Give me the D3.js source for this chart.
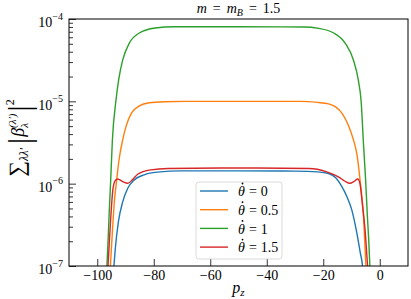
<!DOCTYPE html>
<html>
<head>
<meta charset="utf-8">
<script src="https://cdn.jsdelivr.net/npm/d3@7"></script>
<style>
  body { margin: 0; background: #fff; }
  svg { display: block; }
  .axis text { font-family: "Liberation Serif", "Times New Roman", "DejaVu Serif", serif; font-size: 14px; fill: #000; }
  .axis line { stroke: #000; stroke-width: 0.8px; }
</style>
</head>
<body>
<div class="chart"></div>
<script>
// values
const thetaDots = ["0", "0.5", "1", "1.5"]
const colors = ["#1f77b4", "#ff7f0e", "#2ca02c", "#d62728"]

const pz0 = [-94.7, -94.1, -93.6, -92.5, -91.0, -89.2, -86.9, -83.4, -78.8, -70, -50, -30, -22, -18.1, -15.5, -13.4, -11.5, -9.9, -8.1, -6.9, -6.1, -5.5]
const b0 = [5e-8, 1e-7, 1.64e-7, 3.47e-7, 6.0e-7, 8.8e-7, 1.11e-6, 1.28e-6, 1.38e-6, 1.43e-6, 1.43e-6, 1.42e-6, 1.39e-6, 1.33e-6, 1.17e-6, 9.2e-7, 6.8e-7, 4.8e-7, 2.5e-7, 1.45e-7, 1e-7, 5e-8]

const pz05 = [-95.9, -95.35, -94.6, -93.9, -93.2, -92.3, -91.0, -89.7, -87.9, -85.1, -81.6, -76.3, -69, -50, -28, -22, -18.1, -15.5, -13.4, -11.2, -9.3, -8.1, -6.9, -5.75, -4.9, -4.3]
const b05 = [4e-8, 1e-7, 2.74e-7, 6.3e-7, 1.05e-6, 1.94e-6, 3.4e-6, 5.1e-6, 7.2e-6, 8.8e-6, 9.6e-6, 9.9e-6, 1.0e-5, 1.0e-5, 1.0e-5, 9.7e-6, 9.3e-6, 8.5e-6, 7.2e-6, 5.2e-6, 3.4e-6, 2.3e-6, 1.05e-6, 4.0e-7, 1e-7, 4e-8]

const pz1 = [-97.2, -96.58, -96.16, -95.8, -95.24, -94.64, -93.4, -92.42, -91.01, -88.64, -85.12, -79.47, -72.8, -50, -27, -21.6, -16.3, -12.2, -9.3, -7.6, -6.6, -5.75, -5.0, -4.4, -3.9, -3.5, -3.0]
const b1 = [5e-8, 1e-7, 2.07e-7, 4.17e-7, 1.11e-6, 3.4e-6, 1.01e-5, 1.82e-5, 3.16e-5, 5.1e-5, 6.76e-5, 7.76e-5, 8.05e-5, 8.05e-5, 8.0e-5, 7.7e-5, 6.76e-5, 5.07e-5, 3.16e-5, 1.82e-5, 1.01e-5, 3.0e-6, 1.11e-6, 4.17e-7, 2.07e-7, 1e-7, 5e-8]

const pz15 = [-96.8, -96.2, -95.3, -94.5, -93.7, -92.8, -91.0, -89.2, -87.5, -85.7, -81.0, -75, -50, -25, -19, -14.5, -12.3, -10.6, -9.0, -7.8, -7.0, -6.3, -5.1, -4.3, -3.8]
const b15 = [5e-8, 1e-7, 3.5e-7, 8.3e-7, 1.08e-6, 1.14e-6, 1.06e-6, 1.01e-6, 1.12e-6, 1.30e-6, 1.47e-6, 1.53e-6, 1.55e-6, 1.53e-6, 1.40e-6, 1.2e-6, 1.07e-6, 1.01e-6, 1.07e-6, 1.14e-6, 1.0e-6, 6.3e-7, 2.5e-7, 1e-7, 5e-8]

const xTicks = [-100, -80, -60, -40, -20, 0]
const yTicks = [1e-7, 1e-6, 1e-5, 1e-4]

const pzs = [pz0, pz05, pz1, pz15]
const vals = [b0, b05, b1, b15]

const margin = {top: 19, right: 3, bottom: 33, left: 69}
const width = 411 - margin.left - margin.right
const height = 299 - margin.top - margin.bottom
const serif = '"Liberation Serif", "Times New Roman", "DejaVu Serif", serif'

const svg = d3.select(".chart").append("svg")
    .attr("width", 411)
    .attr("height", 299)

const g = svg.append("g")
    .attr("transform", "translate(" + margin.left + "," + margin.top + ")")

const x = d3.scaleLinear().domain([-110, 10]).range([0, width])
const y = d3.scaleLog().domain([1e-7, 1e-4]).range([height, 0])

g.append("clipPath").attr("id", "clip")
  .append("rect").attr("width", width).attr("height", height)

// curves
const line = d3.line()
    .x(d => x(d[0]))
    .y(d => y(d[1]))
    .curve(d3.curveMonotoneX)

pzs.forEach(function (p, i) {
  g.append("path")
    .datum(p.map((v, j) => [v, vals[i][j]]))
    .attr("clip-path", "url(#clip)")
    .attr("fill", "none")
    .attr("stroke", colors[i])
    .attr("stroke-width", 1.4)
    .attr("d", line)
})

// minor y ticks
const minor = []
for (let e = -7; e < -4; e++) {
  for (let k = 2; k <= 9; k++) minor.push(k * Math.pow(10, e))
}
g.append("g")
  .attr("class", "axis")
  .call(d3.axisLeft(y).tickValues(minor).tickSize(-4).tickFormat(""))
  .call(a => a.select(".domain").remove())

// major y ticks
const yAxis = g.append("g")
  .attr("class", "axis")
  .call(d3.axisLeft(y).tickValues(yTicks).tickSize(-7).tickPadding(6))
yAxis.attr("font-family", null)
yAxis.select(".domain").remove()
yAxis.selectAll(".tick text")
  .text("")
  .attr("dy", "0.55em")
  .style("font-family", serif)
  .each(function (d) {
    const t = d3.select(this)
    t.append("tspan").text("10")
    t.append("tspan").attr("font-size", "10px").attr("dy", "-0.75em")
      .text("\u2212" + Math.round(-Math.log10(d)))
  })

// x axis
const xAxis = g.append("g")
  .attr("class", "axis")
  .attr("transform", "translate(0," + height + ")")
  .call(d3.axisBottom(x).tickValues(xTicks).tickSize(-7).tickPadding(4))
xAxis.attr("font-family", null)
xAxis.select(".domain").remove()
xAxis.selectAll(".tick text").style("font-family", serif)

// frame
g.append("rect")
  .attr("width", width)
  .attr("height", height)
  .attr("fill", "none")
  .attr("stroke", "#000")
  .attr("stroke-width", 1)

// title
const title = svg.append("text")
  .attr("x", margin.left + width / 2)
  .attr("y", 13)
  .attr("text-anchor", "middle")
  .style("font-family", serif)
  .style("font-size", "14px")
title.append("tspan").attr("font-style", "italic").text("m")
title.append("tspan").attr("dx", 6).text("=")
title.append("tspan").attr("dx", 6).attr("font-style", "italic").text("m")
title.append("tspan").attr("font-style", "italic").attr("font-size", "10px").attr("dy", 3).text("B")
title.append("tspan").attr("dx", 6).attr("dy", -3).text("=")
title.append("tspan").attr("dx", 6).text("1.5")

// x label
const xl = svg.append("text")
  .attr("x", margin.left + width / 2)
  .attr("y", 293)
  .attr("text-anchor", "middle")
  .style("font-family", serif)
xl.append("tspan").attr("font-style", "italic").attr("font-size", "16px").text("p")
xl.append("tspan").attr("font-style", "italic").attr("font-size", "11px").attr("dy", 3).text("z")

// y label
const yl = svg.append("text")
  .attr("transform", "translate(24,138) rotate(-90)")
  .attr("text-anchor", "middle")
  .style("font-family", serif)
yl.append("tspan").attr("font-size", "22px").text("\u2211")
yl.append("tspan").attr("font-size", "12px").attr("font-style", "italic").attr("dy", 4).text("\u03bb\u03bb\u2032")
yl.append("tspan").attr("font-size", "31px").attr("dy", 2).attr("dx", 4).text("|")
yl.append("tspan").attr("font-size", "18px").attr("font-style", "italic").attr("dy", -6).attr("dx", 1).text("\u03b2")
yl.append("tspan").attr("font-size", "11px").attr("font-style", "italic").attr("dy", 4).text("\u03bb")
yl.append("tspan").attr("font-size", "11px").attr("font-style", "italic").attr("dx", -5).attr("dy", -12).text("(\u03bb\u2032)")
yl.append("tspan").attr("font-size", "31px").attr("dx", 2).attr("dy", 14).text("|")
yl.append("tspan").attr("font-size", "12px").attr("dy", -16).text("2")

// legend
const lg = svg.append("g").attr("transform", "translate(196,182)")
lg.append("rect")
  .attr("width", 86).attr("height", 77).attr("rx", 3)
  .attr("fill", "#fff").attr("fill-opacity", 0.8)
  .attr("stroke", "#d0d0d0").attr("stroke-width", 0.8)
thetaDots.forEach(function (t, i) {
  const row = lg.append("g").attr("transform", "translate(0," + (9 + i * 18.7) + ")")
  row.append("line")
    .attr("x1", 4).attr("x2", 32)
    .attr("stroke", colors[i]).attr("stroke-width", 1.4)
  const tx = row.append("text")
    .attr("x", 42).attr("dy", "0.38em")
    .style("font-family", serif).style("font-size", "14px")
  tx.append("tspan").attr("font-style", "italic").text("\u03b8")
  tx.append("tspan").attr("dx", 4).text("=")
  tx.append("tspan").attr("dx", 4).text(t)
  // dot accent over theta
  row.append("circle")
    .attr("cx", 46.5).attr("cy", -7.5).attr("r", 0.9)
    .attr("fill", "#000")
})
</script>
</body>
</html>
